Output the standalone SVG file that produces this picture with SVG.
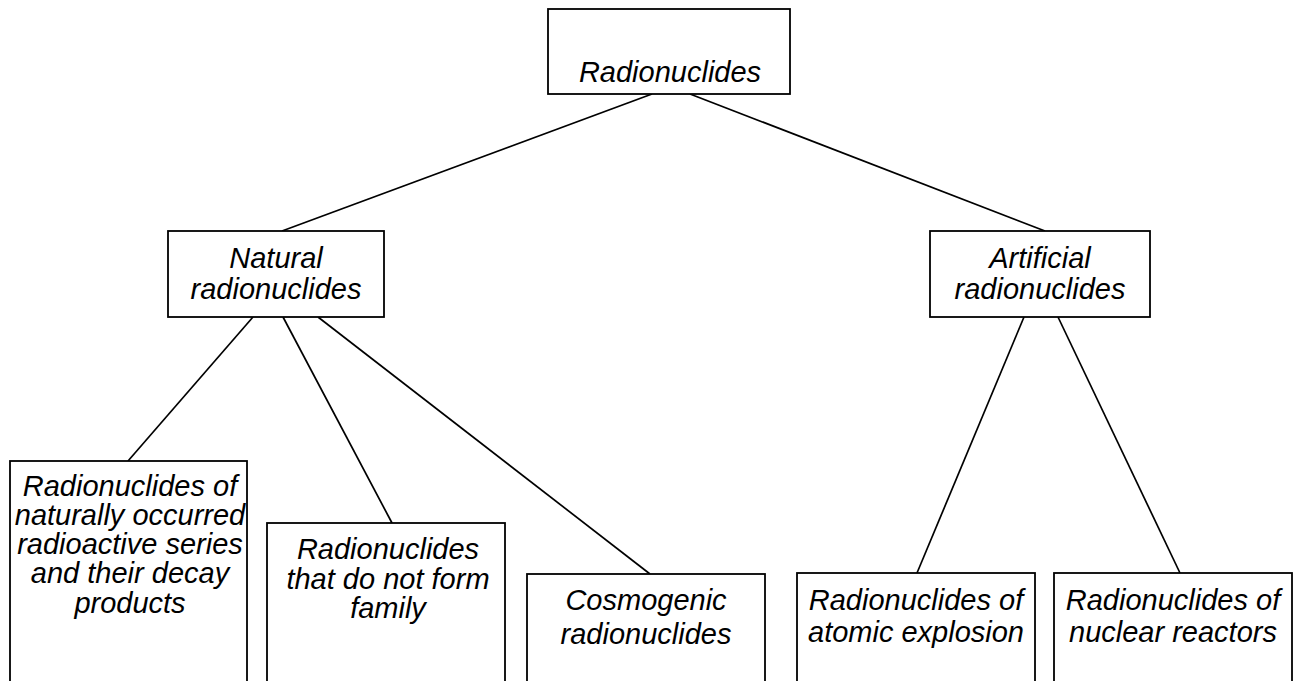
<svg xmlns="http://www.w3.org/2000/svg" width="1300" height="681" viewBox="0 0 1300 681">
<style>
.box{fill:#fff;stroke:#000;stroke-width:1.8}
.t{font-family:"Liberation Sans",Arial,sans-serif;font-style:italic;font-size:29px;fill:#000;text-anchor:middle}
.c line{stroke:#000;stroke-width:1.7}
</style>
<rect width="1300" height="681" fill="#fff"/>
<g class="c" id="connectors">
<line x1="652" y1="94" x2="282" y2="231"/>
<line x1="690" y1="94" x2="1045" y2="231"/>
<line x1="253" y1="317" x2="128" y2="461"/>
<line x1="283" y1="317" x2="392" y2="523"/>
<line x1="318" y1="317" x2="650" y2="574"/>
<line x1="1024" y1="317" x2="917" y2="573"/>
<line x1="1058" y1="317" x2="1180" y2="573"/>
</g>
<g id="root">
<rect class="box" x="548" y="9" width="242" height="85"/>
<text class="t" x="670" y="82">Radionuclides</text>
</g>
<g id="natural">
<rect class="box" x="168" y="231" width="216" height="86"/>
<text class="t" x="276" y="268">Natural</text>
<text class="t" x="276" y="299">radionuclides</text>
</g>
<g id="artificial">
<rect class="box" x="930" y="231" width="220" height="86"/>
<text class="t" x="1040" y="268">Artificial</text>
<text class="t" x="1040" y="299">radionuclides</text>
</g>
<g id="series">
<rect class="box" x="10" y="461" width="237" height="240"/>
<text class="t" x="130" y="496">Radionuclides of</text>
<text class="t" x="130" y="525">naturally occurred</text>
<text class="t" x="130" y="554">radioactive series</text>
<text class="t" x="130" y="583">and their decay</text>
<text class="t" x="130" y="613">products</text>
</g>
<g id="nonfamily">
<rect class="box" x="267" y="523" width="238" height="180"/>
<text class="t" x="388" y="559">Radionuclides</text>
<text class="t" x="388" y="589">that do not form</text>
<text class="t" x="388" y="618">family</text>
</g>
<g id="cosmogenic">
<rect class="box" x="527" y="574" width="238" height="130"/>
<text class="t" x="646" y="610">Cosmogenic</text>
<text class="t" x="646" y="644">radionuclides</text>
</g>
<g id="explosion">
<rect class="box" x="797" y="573" width="238" height="130"/>
<text class="t" x="916" y="610">Radionuclides of</text>
<text class="t" x="916" y="642">atomic explosion</text>
</g>
<g id="reactors">
<rect class="box" x="1054" y="573" width="238" height="130"/>
<text class="t" x="1173" y="610">Radionuclides of</text>
<text class="t" x="1173" y="642">nuclear reactors</text>
</g>
</svg>
